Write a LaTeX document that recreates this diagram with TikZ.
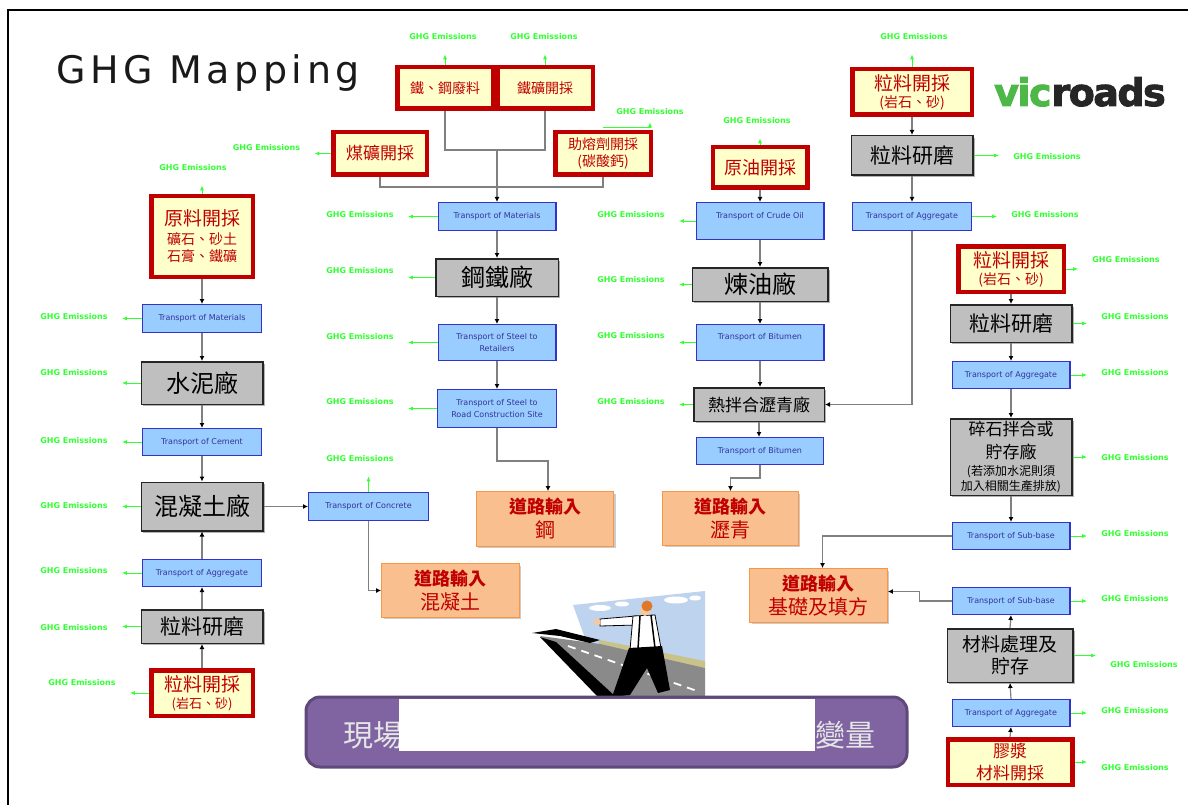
\documentclass[tikz,border=0pt]{standalone}
\usepackage{fontspec}
\setmainfont{DejaVu Sans}
\newfontfamily\cjk{Noto Sans CJK TC}
\newfontfamily\titlefont[LetterSpace=12]{DejaVu Sans}
\newfontfamily\logofont[LetterSpace=-4, FakeBold=2.5]{DejaVu Sans}
\usetikzlibrary{arrows.meta,shadows}

\definecolor{minered}{HTML}{C00000}
\definecolor{minefill}{HTML}{FFFFCC}
\definecolor{plantfill}{HTML}{BFBFBF}
\definecolor{haulfill}{HTML}{99CCFF}
\definecolor{hauledge}{HTML}{3333CC}
\definecolor{haultext}{HTML}{333399}
\definecolor{roadfill}{HTML}{FABF8F}
\definecolor{roadedge}{HTML}{F79646}
\definecolor{ghggreen}{HTML}{33FF33}
\definecolor{wiregrey}{HTML}{808080}
\definecolor{bannerfill}{HTML}{8064A2}
\definecolor{banneredge}{HTML}{5F497A}
\definecolor{vicgreen}{HTML}{4DB848}
\definecolor{vicdark}{HTML}{262626}
\definecolor{skyblue}{HTML}{BDD3EE}
\definecolor{tarmac}{HTML}{8A8A8A}
\definecolor{verge}{HTML}{C9C38A}
\definecolor{hair}{HTML}{E0782A}
\definecolor{skin}{HTML}{F5C9A0}

\begin{document}
\begin{tikzpicture}[x=1pt, y=-1pt,
	mine/.style={draw=minered, line width=4.5pt, fill=minefill, text=minered, align=center, inner sep=0pt, font=\cjk\fontsize{14}{17}\selectfont},
	plant/.style={draw=black!85, line width=1.5pt, fill=plantfill, align=center, inner sep=0pt, drop shadow={shadow xshift=2pt, shadow yshift=-2pt, fill=black, opacity=0.3}, font=\cjk\fontsize{24}{28}\selectfont},
	haul/.style={draw=hauledge, line width=1.3pt, fill=haulfill, text=haultext, align=center, inner sep=0pt, font=\fontsize{8}{12}\selectfont},
	road/.style={draw=roadedge, line width=1.3pt, fill=roadfill, text=minered, align=center, inner sep=0pt, drop shadow={shadow xshift=2pt, shadow yshift=-2pt, fill=black, opacity=0.2}, font=\cjk\fontsize{20}{24}\selectfont},
	ghg/.style={text=ghggreen, inner sep=0pt, font=\bfseries\fontsize{8}{10}\selectfont},
	emit/.style={draw=ghggreen, line width=1pt, shorten >=14pt, -{Latex[length=5pt, width=4pt]}},
	wire/.style={draw=wiregrey, line width=1.2pt},
	feed/.style={wire, -{Latex[length=5pt, width=5pt, color=black]}}]
	\useasboundingbox (0,0) rectangle (1188,805);

	% рамка и заголовок
	\draw[line width=2pt] (8,805) -- (8,10) -- (1188,10);
	\node[anchor=base west, inner sep=0pt, text=black!90, font=\titlefont\fontsize{38}{42}\selectfont] (title) at (56,84) {GHG Mapping};
	\node[anchor=base west, inner sep=0pt, font=\logofont\bfseries\fontsize{38}{40}\selectfont] (logo) at (994,106) {\textcolor{vicgreen}{vic}\textcolor{vicdark}{roads}};

	% цемент и бетон
	\node[mine, minimum width=101.5, minimum height=80.5] (rawmat) at (202,236.5) {{\fontsize{19}{22}\selectfont 原料開採}\\[2pt]礦石、砂土\\石膏、鐵礦};
	\node[haul, minimum width=118.7, minimum height=27.7] (tmat) at (202,318.5) {Transport of Materials};
	\node[plant, minimum width=121.5, minimum height=42.5] (cemplant) at (202,383) {水泥廠};
	\node[haul, minimum width=118.7, minimum height=26.7] (tcem) at (202,442) {Transport of Cement};
	\node[plant, minimum width=121.5, minimum height=48.5] (concplant) at (202,506.5) {混凝土廠};
	\node[haul, minimum width=118.7, minimum height=26.7] (tagg) at (202,573) {Transport of Aggregate};
	\node[plant, minimum width=121.5, minimum height=33.5, font=\cjk\fontsize{21}{24}\selectfont] (grind) at (202,626.5) {粒料研磨};
	\node[mine, minimum width=101.5, minimum height=45.5, font=\cjk\fontsize{13}{17}\selectfont] (quarry) at (202,693) {{\fontsize{19}{22}\selectfont 粒料開採}\\(岩石、砂)};
	\node[haul, minimum width=119.7, minimum height=27.7] (tconc) at (368.5,506.5) {Transport of Concrete};
	\node[road, minimum width=137.5, minimum height=53.5] (roadconc) at (450.5,590.5) {{\bfseries\fontsize{18}{22}\selectfont 道路輸入}\\混凝土};

	\node[ghg] (grawmat) at (193,168) {GHG Emissions};
	\node[ghg] (gtmat) at (74,317) {GHG Emissions};
	\node[ghg] (gcemplant) at (74,373) {GHG Emissions};
	\node[ghg] (gtcem) at (74,441) {GHG Emissions};
	\node[ghg] (gconcplant) at (74,506) {GHG Emissions};
	\node[ghg] (gtagg) at (74,571) {GHG Emissions};
	\node[ghg] (ggrind) at (74,628) {GHG Emissions};
	\node[ghg] (gquarry) at (82,683) {GHG Emissions};
	\node[ghg] (gtconc) at (360,459) {GHG Emissions};

	\draw[emit] (rawmat.north) -- (rawmat.north |- grawmat.south);
	\draw[emit] (tmat.west) -- (tmat.west -| gtmat.east);
	\draw[emit] (cemplant.west) -- (cemplant.west -| gcemplant.east);
	\draw[emit] (tcem.west) -- (tcem.west -| gtcem.east);
	\draw[emit] (concplant.west) -- (concplant.west -| gconcplant.east);
	\draw[emit] (tagg.west) -- (tagg.west -| gtagg.east);
	\draw[emit] (grind.west) -- (grind.west -| ggrind.east);
	\draw[emit] (quarry.west) -- (quarry.west -| gquarry.east);
	\draw[emit] (tconc.north) -- (tconc.north |- gtconc.south);

	\draw[feed] (rawmat.south) -- (tmat.north);
	\draw[feed] (tmat.south) -- (cemplant.north);
	\draw[feed] (cemplant.south) -- (tcem.north);
	\draw[feed] (tcem.south) -- (concplant.north);
	\draw[feed] (quarry.north) -- (grind.south);
	\draw[feed] (grind.north) -- (tagg.south);
	\draw[feed] (tagg.north) -- (concplant.south);
	\draw[feed] (concplant.east) -- (tconc.west);
	\draw[feed] (tconc.south) |- (roadconc.west);

	% сталь
	\node[mine, minimum width=95.5, minimum height=41.5] (scrap) at (445,88) {鐵、鋼廢料};
	\node[mine, minimum width=95.5, minimum height=41.5] (ironore) at (545,88) {鐵礦開採};
	\node[mine, minimum width=93.5, minimum height=42.5, font=\cjk\fontsize{17}{20}\selectfont] (coal) at (380,153.5) {煤礦開採};
	\node[mine, minimum width=95.5, minimum height=42.5] (flux) at (603,153.5) {助熔劑開採\\(碳酸鈣)};
	\node[haul, minimum width=117.7, minimum height=27.7] (tsteelmat) at (497,216.5) {Transport of Materials};
	\node[plant, minimum width=122.5, minimum height=37.5] (steelplant) at (497,277.5) {鋼鐵廠};
	\node[haul, minimum width=117.7, minimum height=35.7] (tretail) at (497,342.5) {Transport of Steel to\\Retailers};
	\node[haul, minimum width=118.7, minimum height=37.7] (tsite) at (497,408.5) {Transport of Steel to\\Road Construction Site};
	\node[road, minimum width=137.5, minimum height=54.5] (roadsteel) at (545,519) {{\bfseries\fontsize{18}{22}\selectfont 道路輸入}\\鋼};

	\node[ghg] (gscrap) at (443,37) {GHG Emissions};
	\node[ghg] (gironore) at (544,37) {GHG Emissions};
	\node[ghg] (gcoal) at (266.5,148) {GHG Emissions};
	\node[ghg] (gflux) at (650,112) {GHG Emissions};
	\node[ghg] (gtsteelmat) at (360,215) {GHG Emissions};
	\node[ghg] (gsteelplant) at (360,271) {GHG Emissions};
	\node[ghg] (gtretail) at (360,337) {GHG Emissions};
	\node[ghg] (gtsite) at (360,402) {GHG Emissions};

	\draw[emit] (scrap.north) -- (scrap.north |- gscrap.south);
	\draw[emit] (ironore.north) -- (ironore.north |- gironore.south);
	\draw[emit] (coal.west) -- (coal.west -| gcoal.east);
	\draw[emit, shorten >=7pt] ([yshift=2pt]flux.north) -| (gflux.south);
	\draw[emit] (tsteelmat.west) -- (tsteelmat.west -| gtsteelmat.east);
	\draw[emit] (steelplant.west) -- (steelplant.west -| gsteelplant.east);
	\draw[emit] (tretail.west) -- (tretail.west -| gtretail.east);
	\draw[emit] (tsite.west) -- (tsite.west -| gtsite.east);

	\coordinate (jore) at (497,150);
	\coordinate (jcoal) at (497,187);
	\draw[wire] (scrap.south) |- (jore) -| (ironore.south);
	\draw[wire] (coal.south) |- (jcoal) -| (flux.south);
	\draw[feed] (jore) -- (tsteelmat.north);
	\draw[feed] (tsteelmat.south) -- (steelplant.north);
	\draw[feed] (steelplant.south) -- (tretail.north);
	\draw[feed] (tretail.south) -- (tsite.north);
	\draw[feed] (tsite.south) -- ++(0,33) -| ([xshift=3pt]roadsteel.north);

	% битум и асфальт
	\node[mine, minimum width=94.5, minimum height=40.5, font=\cjk\fontsize{18}{21}\selectfont] (crude) at (760,167.5) {原油開採};
	\node[haul, minimum width=127.7, minimum height=36.7] (tcrude) at (760,221) {\raisebox{12pt}{Transport of Crude Oil}};
	\node[plant, minimum width=135.5, minimum height=33.5] (refinery) at (760,284.5) {煉油廠};
	\node[haul, minimum width=127.7, minimum height=35.7] (tbitumen) at (760,342.5) {\raisebox{12pt}{Transport of Bitumen}};
	\node[plant, minimum width=130.5, minimum height=33.5, font=\cjk\fontsize{17}{20}\selectfont] (asphalt) at (759,404.5) {熱拌合瀝青廠};
	\node[haul, minimum width=126.7, minimum height=26.7] (tbitumenb) at (760,451) {Transport of Bitumen};
	\node[road, minimum width=135.5, minimum height=53.5] (roadbit) at (730.5,518.5) {{\bfseries\fontsize{18}{22}\selectfont 道路輸入}\\瀝青};

	\node[ghg] (gcrude) at (757,121) {GHG Emissions};
	\node[ghg] (gtcrude) at (631,215) {GHG Emissions};
	\node[ghg] (grefinery) at (631,280) {GHG Emissions};
	\node[ghg] (gtbitumen) at (631,336) {GHG Emissions};
	\node[ghg] (gasphalt) at (631,402) {GHG Emissions};

	\draw[emit] (crude.north) -- (crude.north |- gcrude.south);
	\draw[emit] (tcrude.west) -- (tcrude.west -| gtcrude.east);
	\draw[emit] (refinery.west) -- (refinery.west -| grefinery.east);
	\draw[emit] (tbitumen.west) -- (tbitumen.west -| gtbitumen.east);
	\draw[emit] (asphalt.west) -- (asphalt.west -| gasphalt.east);

	\draw[feed] (crude.south) -- (tcrude.north);
	\draw[feed] (tcrude.south) -- (refinery.north);
	\draw[feed] (refinery.south) -- (tbitumen.north);
	\draw[feed] (tbitumen.south) -- (tbitumen.south |- asphalt.north);
	\draw[feed] (asphalt.south) -- (asphalt.south |- tbitumenb.north);
	\draw[feed] (tbitumenb.south) -- ++(0,13) -| (roadbit.north);

	% заполнитель для асфальта
	\node[mine, minimum width=119.5, minimum height=45.5] (quarryd) at (912,92) {{\fontsize{19}{22}\selectfont 粒料開採}\\(岩石、砂)};
	\node[plant, minimum width=121.5, minimum height=39.5, font=\cjk\fontsize{21}{24}\selectfont] (grindd) at (912,155.5) {粒料研磨};
	\node[haul, minimum width=118.7, minimum height=27.7] (taggd) at (912,216.5) {Transport of Aggregate};

	\node[ghg] (gquarryd) at (914,37) {GHG Emissions};
	\node[ghg] (ggrindd) at (1047,157) {GHG Emissions};
	\node[ghg] (gtaggd) at (1045,215) {GHG Emissions};

	\draw[emit] (quarryd.north) -- (quarryd.north |- gquarryd.south);
	\draw[emit] (grindd.east) -- (grindd.east -| ggrindd.west);
	\draw[emit] (taggd.east) -- (taggd.east -| gtaggd.west);

	\draw[feed] (quarryd.south) -- (grindd.north);
	\draw[feed] (grindd.south) -- (taggd.north);
	\draw[feed] (taggd.south) |- (asphalt.east);

	% основание и засыпка
	\node[mine, minimum width=105.5, minimum height=45.5] (quarrye) at (1011,269) {{\fontsize{19}{22}\selectfont 粒料開採}\\(岩石、砂)};
	\node[plant, minimum width=121.5, minimum height=37.5, font=\cjk\fontsize{21}{24}\selectfont] (grinde) at (1011,323.5) {粒料研磨};
	\node[haul, minimum width=117.7, minimum height=26.7] (tagge) at (1011,375) {Transport of Aggregate};
	\node[plant, minimum width=121.5, minimum height=76.5, font=\cjk\fontsize{12}{15}\selectfont] (mixplant) at (1011,457) {{\fontsize{17}{20}\selectfont 碎石拌合或}\\[7pt]{\fontsize{17}{20}\selectfont 貯存廠}\\[2pt](若添加水泥則須\\加入相關生產排放)};
	\node[haul, minimum width=117.7, minimum height=26.7] (tsubbase) at (1011,536) {Transport of Sub-base};
	\node[haul, minimum width=117.7, minimum height=26.7] (tsubbaseb) at (1011,601) {Transport of Sub-base};
	\node[road, minimum width=137.5, minimum height=53.5] (roadbase) at (818.5,595.5) {{\bfseries\fontsize{18}{22}\selectfont 道路輸入}\\基礎及填方};
	\node[plant, minimum width=125.5, minimum height=53.5, font=\cjk\fontsize{19}{22}\selectfont] (treat) at (1010,655.5) {材料處理及\\貯存};
	\node[haul, minimum width=117.7, minimum height=26.7] (taggf) at (1011,713) {Transport of Aggregate};
	\node[mine, minimum width=124.5, minimum height=45.5, font=\cjk\fontsize{17}{22}\selectfont] (slurry) at (1010,762) {膠漿\\材料開採};

	\node[ghg] (gquarrye) at (1126,260) {GHG Emissions};
	\node[ghg] (ggrinde) at (1135,317) {GHG Emissions};
	\node[ghg] (gtagge) at (1135,373) {GHG Emissions};
	\node[ghg] (gmixplant) at (1135,458) {GHG Emissions};
	\node[ghg] (gtsubbase) at (1135,534) {GHG Emissions};
	\node[ghg] (gtsubbaseb) at (1135,599) {GHG Emissions};
	\node[ghg] (gtreat) at (1144,665) {GHG Emissions};
	\node[ghg] (gtaggf) at (1135,711) {GHG Emissions};
	\node[ghg] (gslurry) at (1135,768) {GHG Emissions};

	\draw[emit] (quarrye.east) -- (quarrye.east -| gquarrye.west);
	\draw[emit] (grinde.east) -- (grinde.east -| ggrinde.west);
	\draw[emit] (tagge.east) -- (tagge.east -| gtagge.west);
	\draw[emit] (mixplant.east) -- (mixplant.east -| gmixplant.west);
	\draw[emit] (tsubbase.east) -- (tsubbase.east -| gtsubbase.west);
	\draw[emit] (tsubbaseb.east) -- (tsubbaseb.east -| gtsubbaseb.west);
	\draw[emit] (treat.east) -- (treat.east -| gtreat.west);
	\draw[emit] (taggf.east) -- (taggf.east -| gtaggf.west);
	\draw[emit] (slurry.east) -- (slurry.east -| gslurry.west);

	\draw[feed] (quarrye.south) -- (grinde.north);
	\draw[feed] (grinde.south) -- (tagge.north);
	\draw[feed] (tagge.south) -- (mixplant.north);
	\draw[feed] (mixplant.south) -- (tsubbase.north);
	\draw[feed] (tsubbase.west) -| ([xshift=4pt]roadbase.north);
	\draw[feed] (slurry.north) -- (taggf.south);
	\draw[feed] (taggf.north) -- (treat.south);
	\draw[feed] (treat.north) -- (tsubbaseb.south);
	\draw[feed] (tsubbaseb.west) -- ++(-32,0) |- ([yshift=4pt]roadbase.east);

	% дорога и человек
	\fill[skyblue] (573,605) -- (705,591) -- (705,668) -- (590,652) -- cycle;
	\fill[white] (600,608) ellipse (11 and 3);
	\fill[white] (622,604) ellipse (7 and 2.5);
	\fill[white] (676,600) ellipse (12 and 3.5);
	\fill[white] (695,598) ellipse (6 and 2.5);
	\fill[verge] (600,640) -- (705,661) -- (705,668) -- (598,645) -- cycle;
	\fill[tarmac] (540,636) -- (600,644) -- (705,668) -- (705,697) -- (606,697) -- cycle;
	\fill[black] (532,633) -- (556,629) -- (600,640) -- (590,643) -- (560,636) -- cycle;
	\fill[black] (540,637) -- (556,642) -- (616,697) -- (598,697) -- cycle;
	\draw[white, line width=1.8pt, dash pattern=on 8pt off 6pt] (568,646) -- (700,692);
	\filldraw[fill=white, draw=black, line width=0.8pt] (600,619) -- (636,616) -- (637,625) -- (600,626) -- cycle;
	\fill[skin] (597,622) circle (3.5);
	\filldraw[fill=white, draw=black, line width=0.8pt] (633,616) -- (655,615) -- (661,648) -- (630,650) -- cycle;
	\draw[black, line width=1.5pt] (640,616) -- (638,649) (651,615) -- (655,648);
	\fill[skin] (645,611) circle (5);
	\fill[hair] (647,606) circle (5.5);
	\fill[black] (629,648) -- (662,646) -- (670,690) -- (658,693) -- (647,668) -- (630,695) -- (612,697) -- cycle;

	% нижняя плашка
	\draw[draw=banneredge, fill=bannerfill, line width=3pt, rounded corners=14pt] (306,697) rectangle (907,767);
	\node[text=white!90!black, font=\cjk\fontsize{30}{34}\selectfont] (site) at (373,735) {現場};
	\node[text=white!90!black, font=\cjk\fontsize{30}{34}\selectfont] (vary) at (845,735) {變量};
	\fill[white] (399,698.5) rectangle (815,751);
\end{tikzpicture}
\end{document}
